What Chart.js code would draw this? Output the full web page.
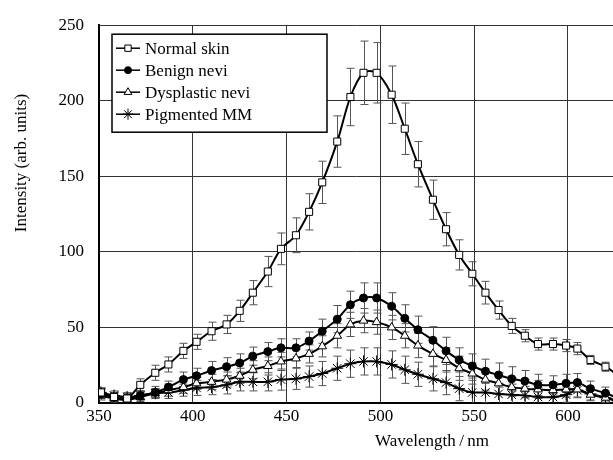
<!DOCTYPE html>
<html lang="en">
<head>
<meta charset="UTF-8">
<title>Intensity vs wavelength</title>
<script src="https://cdn.jsdelivr.net/npm/chart.js"></script>
<style>
  html, body { margin: 0; padding: 0; background: #fff; }
  #chart { display: block; }
</style>
</head>
<body>
<canvas id="chart" width="613" height="460"></canvas>
<script>
// wavelengths (nm) of the measured points
const wavelengths = [351, 358, 365, 372, 380, 387, 395, 402, 410, 418, 425, 432, 440, 447, 455, 462, 469, 477, 484, 491,
  498, 506, 513, 520, 528, 535, 542, 549, 556, 563, 570, 577, 584, 592, 599, 605, 612, 620, 627];

const normalSkin = [7, 4, 3, 12, 20, 25.5, 34.5, 40.5, 47.5, 52, 61, 73, 87, 102, 111, 126.5, 146, 173, 202.5, 218.5,
  218.5, 204, 181.5, 158, 134.5, 115, 98, 85.5, 73, 61.5, 51, 44.5, 39, 39, 38, 36, 28.5, 24, 18];
const normalErr = [3, 3, 3, 4, 5, 5, 5, 5, 6, 6, 7, 8, 10, 10.5, 11.5, 12, 14, 17, 19, 21,
  20, 19, 17, 15, 13, 11, 10, 8, 7.5, 6, 5, 4, 4, 4, 4, 4, 3, 3, 3];

const benignNevi = [6, 4, 3, 5, 7, 10.5, 15.5, 18, 21.5, 24, 26.5, 31, 34, 36.5, 36.5, 41, 47.5, 55.5, 65, 69.5,
  69.5, 64, 56, 48.5, 41.5, 34.5, 28.5, 24.5, 21, 18.5, 16, 14.5, 12, 12, 13, 13.5, 9.5, 6.5, 3];
const benignErr = [3, 3, 3, 3, 4, 4, 5, 5, 6, 6, 6, 6, 6, 6, 6, 6, 8, 9, 9, 10,
  10, 9, 9, 9, 9, 9, 8, 8, 8, 8, 8, 7, 7, 6, 6, 6, 5, 4, 3];

const dysplasticNevi = [5, 3, 2, 4, 6.5, 8.5, 10.5, 13, 14, 15.5, 18, 22, 24.5, 27.5, 29.5, 32.5, 37.5, 44.5, 52, 54.5,
  53.5, 50, 44.5, 38, 32.5, 28.5, 23, 19.5, 15.5, 13, 10.5, 9.5, 9, 8.5, 9, 9, 5.5, 3.5, 1];
const dysplasticErr = [3, 3, 3, 3, 3, 4, 4, 4, 5, 5, 5, 6, 6, 6, 6, 6, 7, 8, 8, 8,
  8, 8, 8, 8, 8, 8, 8, 7, 7, 7, 6, 6, 6, 5, 5, 5, 4, 3, 3];

const pigmentedMM = [7, 5, 4, 5, 6.5, 7, 8.5, 10, 10.5, 12, 14, 14, 14, 15.5, 16, 17.5, 19.5, 23, 26, 27.5,
  27.5, 25.5, 22, 19, 16, 13.5, 9.5, 7, 7, 6, 5.5, 5, 4, 4, 5.5, 8.5, 6, 3.5, 1];
const mmErr = [3, 3, 3, 3, 3, 4, 4, 5, 5, 6, 6, 6, 6, 7, 7, 7, 8, 8, 9, 9,
  9, 9, 9, 8, 8, 8, 8, 8, 7, 7, 7, 6, 6, 6, 5, 5, 4, 3, 3];

const xTicks = [350, 400, 450, 500, 550, 600];
const yTicks = [0, 50, 100, 150, 200, 250];

const FONT = 'Liberation Serif, Times New Roman, serif';

function points(vals) {
  return vals.map((v, i) => ({ x: wavelengths[i], y: v }));
}

function serie(label, vals, errs, style, radius, fill) {
  return {
    label: label,
    data: points(vals),
    errors: errs,
    borderColor: '#000',
    borderWidth: 2,
    tension: 0.3,
    pointStyle: style,
    pointRadius: radius,
    pointBackgroundColor: fill,
    pointBorderColor: '#000',
    pointBorderWidth: 1
  };
}

// error bars, drawn through the scales
const errorBars = {
  id: 'errorBars',
  beforeDatasetsDraw(chart) {
    const ctx = chart.ctx;
    const area = chart.chartArea;
    const xs = chart.scales.x, ys = chart.scales.y;
    ctx.save();
    ctx.beginPath();
    ctx.rect(area.left, area.top, area.right - area.left, area.bottom - area.top);
    ctx.clip();
    ctx.strokeStyle = '#555';
    ctx.lineWidth = 1;
    chart.data.datasets.forEach(ds => {
      ds.data.forEach((p, i) => {
        const e = ds.errors[i];
        const px = Math.round(xs.getPixelForValue(p.x)) + 0.5;
        const top = ys.getPixelForValue(p.y + e);
        const bot = ys.getPixelForValue(p.y - e);
        ctx.beginPath();
        ctx.moveTo(px, top); ctx.lineTo(px, bot);
        ctx.moveTo(px - 4, top); ctx.lineTo(px + 4, top);
        ctx.moveTo(px - 4, bot); ctx.lineTo(px + 4, bot);
        ctx.stroke();
      });
    });
    ctx.restore();
  }
};

// boxed legend inside the plot + axis titles
const boxLegend = {
  id: 'boxLegend',
  afterDraw(chart) {
    const ctx = chart.ctx;
    const area = chart.chartArea;
    ctx.save();
    const bx = area.left + 13, by = area.top + 9, bw = 215, bh = 98;
    ctx.fillStyle = '#fff';
    ctx.fillRect(bx, by, bw, bh);
    ctx.strokeStyle = '#000';
    ctx.lineWidth = 1.5;
    ctx.strokeRect(bx, by, bw, bh);
    ctx.font = '17px ' + FONT;
    ctx.textBaseline = 'middle';
    chart.data.datasets.forEach((ds, i) => {
      const y = by + 14 + i * 22;
      ctx.strokeStyle = '#000';
      ctx.lineWidth = 1.5;
      ctx.beginPath();
      ctx.moveTo(bx + 4, y); ctx.lineTo(bx + 28, y);
      ctx.stroke();
      ctx.fillStyle = ds.pointBackgroundColor;
      ctx.lineWidth = 1;
      Chart.helpers.drawPoint(ctx, { pointStyle: ds.pointStyle, radius: ds.pointRadius - 0.5, rotation: 0, borderWidth: 1 }, bx + 16, y);
      ctx.fillStyle = '#000';
      ctx.textAlign = 'left';
      ctx.fillText(ds.label, bx + 33, y + 1);
    });

    // axis titles
    ctx.fillStyle = '#000';
    ctx.font = '17px ' + FONT;
    ctx.textAlign = 'center';
    ctx.fillText('Wavelength\u2009/\u2009nm', 432, 442);
    ctx.translate(22, 163);
    ctx.rotate(-Math.PI / 2);
    ctx.fillText('Intensity (arb. units)', 0, 0);
    ctx.restore();
  }
};

new Chart(document.getElementById('chart'), {
  type: 'line',
  data: {
    datasets: [
      serie('Normal skin', normalSkin, normalErr, 'rect', 5, '#fff'),
      serie('Benign nevi', benignNevi, benignErr, 'circle', 4, '#000'),
      serie('Dysplastic nevi', dysplasticNevi, dysplasticErr, 'triangle', 5, '#fff'),
      serie('Pigmented MM', pigmentedMM, mmErr, 'star', 6, '#000')
    ]
  },
  options: {
    responsive: false,
    animation: false,
    layout: { autoPadding: false, padding: { top: 23, right: 0, left: 0, bottom: 0 } },
    plugins: {
      legend: { display: false },
      tooltip: { enabled: false }
    },
    scales: {
      x: {
        type: 'linear',
        min: 350,
        max: 624,
        afterFit: s => { s.height = 57; s.paddingRight = 0; },
        afterBuildTicks: s => { s.ticks = xTicks.map(v => ({ value: v })); },
        ticks: { color: '#000', font: { family: FONT, size: 17 }, padding: 3, maxRotation: 0 },
        grid: { color: '#333', lineWidth: 1, drawTicks: false },
        border: { color: '#000', width: 2 }
      },
      y: {
        min: 0,
        max: 250,
        afterFit: s => { s.width = 99; },
        afterBuildTicks: s => { s.ticks = yTicks.map(v => ({ value: v })); },
        ticks: { color: '#000', font: { family: FONT, size: 17 }, padding: 15 },
        grid: { color: '#333', lineWidth: 1, drawTicks: false },
        border: { color: '#000', width: 2 }
      }
    }
  },
  plugins: [errorBars, boxLegend]
});
</script>
</body>
</html>
